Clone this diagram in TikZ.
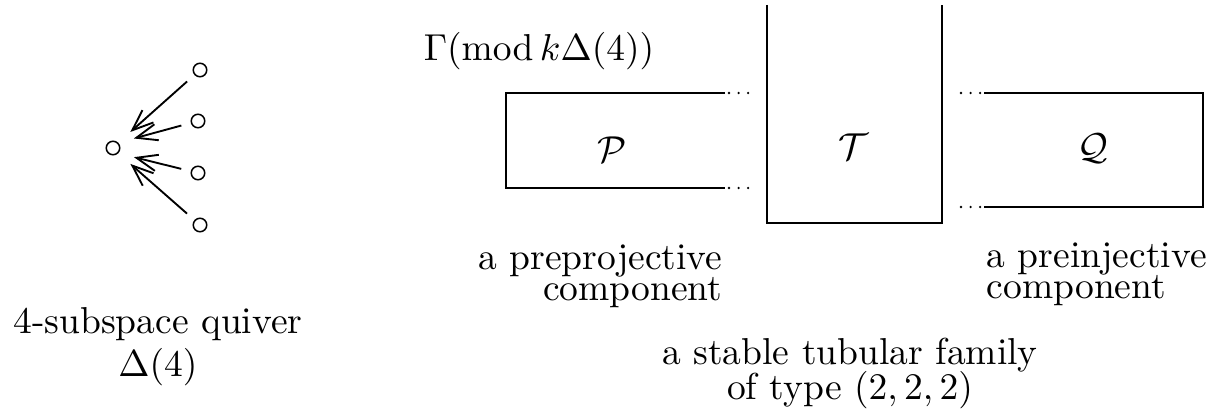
\documentclass[tikz,border=0pt]{standalone}
\usepackage{amsmath}
\usepackage{amssymb}
\usetikzlibrary{
  arrows.meta,
  positioning
}

\begin{document}
\begin{tikzpicture}[
      x=0.2667pt, y=-0.2667pt,
      >={Straight Barb[length=5.6pt,width=4.4pt]},
      vertice/.style={draw, circle, line width=0.4pt, minimum size=3.6pt, inner sep=0pt},
      seta/.style={->, line width=0.5pt, shorten <=2.6pt, shorten >=4.3pt},
      borda/.style={line width=0.6pt},
      pontos/.style={line width=0.7pt, line cap=round, dash pattern=on 0pt off 2.55pt},
      comp/.style={inner sep=0pt},
      legenda/.style={inner sep=0pt, font={\fontsize{10}{8.2}\selectfont\lineskiplimit=-10pt}}
  ]
      \useasboundingbox (0,0) rectangle (1223,416);

      % Aljava de 4 subespacos
      \node[vertice] (c)  at (113,148) {};
      \node[vertice] (v1) at (200,70)  {};
      \node[vertice] (v2) at (198,121) {};
      \node[vertice] (v3) at (198,173) {};
      \node[vertice] (v4) at (200,225) {};

      \draw[seta] (v1) -- (c.north east);
      \draw[seta] (v2) -- (c.north east);
      \draw[seta] (v3) -- (c.south east);
      \draw[seta] (v4) -- (c.south east);

      \node[legenda, anchor=base, align=center, font={\fontsize{10}{11.4}\selectfont}] (aljava) at (158,376)
        {4-subspace quiver\\$\Delta(4)$};

      % Componentes
      \node[comp, anchor=west] (gama) at (423,51) {$\Gamma(\operatorname{mod}k\Delta(4))$};

      \draw[borda] (725,93) -- (506,93) -- (506,188) -- (725,188);
      \draw[pontos] (729,93) -- (749,93);
      \draw[pontos] (729,188) -- (749,188);
      \node[comp] (p) at (612,150) {$\mathcal{P}$};

      \draw[borda] (767,5) -- (767,223) -- (942,223) -- (942,5);
      \node[comp] (t) at (853,147) {$\mathcal{T}$};

      \draw[borda] (984,93) -- (1203,93) -- (1203,207) -- (984,207);
      \draw[pontos] (961,93) -- (981,93);
      \draw[pontos] (961,207) -- (981,207);
      \node[comp] (q) at (1093,149) {$\mathcal{Q}$};

      % Legendas
      \node[legenda, anchor=base east, align=right] (preproj) at (723,300)
        {a preprojective\\component};
      \node[legenda, anchor=base west, align=left] (preinj) at (986,298)
        {a preinjective\\component};
      \node[legenda, anchor=base, align=center, font={\fontsize{10}{9.3}\selectfont\lineskiplimit=-10pt}] (tubular) at (850,399)
        {a stable tubular family\\of type $(2,2,2)$};
  \end{tikzpicture}
\end{document}
